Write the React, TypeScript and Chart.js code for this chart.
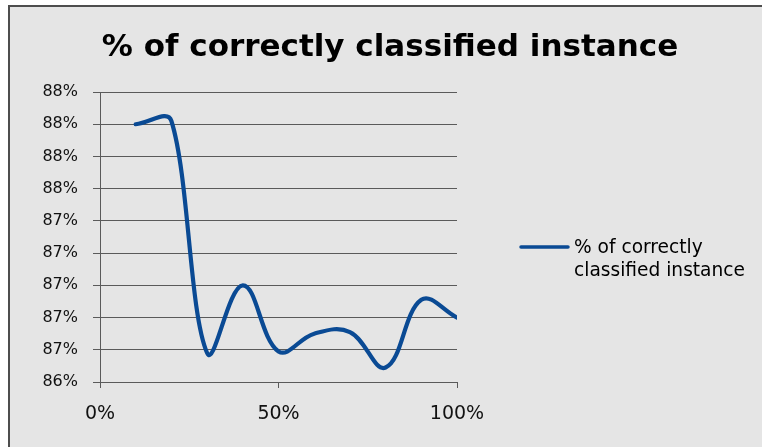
import { useEffect, useRef } from 'react';
import { Chart, registerables } from 'chart.js';

Chart.register(...registerables);

// Series: share of the training set (x) against classification accuracy (y)
const seriesName = '% of correctly classified instance';
const legendLines = ['% of correctly', 'classified instance'];
const trainShare = [10, 20, 30, 40, 50, 60, 70, 80, 90, 100];
const accuracy = [88.0, 88.02, 86.58, 87.0, 86.59, 86.7, 86.71, 86.49, 86.91, 86.8];

// Axis ranges
const yMin = 86.4;
const yMax = 88.2;
const yStep = 0.2;
const xMin = 0;
const xMax = 100;
const xStep = 50;

const LINE_COLOR = '#0a4a94';
const PANEL_BG = '#e5e5e5';
const FRAME_COLOR = '#4d4d4d';
const GRID_COLOR = '#5a5a5a';
const FONT = '"DejaVu Sans", sans-serif';
const TENSION = 0.4;

// Grey panel with a dark frame on the top and left edges
const framePlugin = {
  id: 'panelFrame',
  beforeDraw(chart: Chart) {
    const { ctx, width, height } = chart;
    ctx.save();
    ctx.fillStyle = '#ffffff';
    ctx.fillRect(0, 0, width, height);
    ctx.fillStyle = PANEL_BG;
    ctx.fillRect(8, 5, width - 8, height - 5);
    ctx.fillStyle = FRAME_COLOR;
    ctx.fillRect(8, 5, width - 8, 2);
    ctx.fillRect(8, 5, 2, height - 5);
    ctx.restore();
  },
};

// Same spline as Chart.js, but the bezier handles never reach further
// than half-way to the neighbouring point horizontally, so steep
// stretches stay a smooth S instead of bending back on themselves.
const smoothPlugin = {
  id: 'smoothHandles',
  beforeDatasetDraw(chart: Chart, args: any) {
    const meta = args.meta;
    const line = meta.dataset;
    if (!line) return;
    if (typeof line.updateControlPoints === 'function') {
      line.updateControlPoints(chart.chartArea, 'x');
    }
    const pts = meta.data as any[];
    const n = pts.length;
    for (let i = 0; i < n; i++) {
      const p = pts[i];
      const prev = pts[Math.max(i - 1, 0)];
      const next = pts[Math.min(i + 1, n - 1)];
      const d01 = Math.hypot(p.x - prev.x, p.y - prev.y);
      const d12 = Math.hypot(next.x - p.x, next.y - p.y);
      const sum = d01 + d12 || 1;
      let fa = (TENSION * d01) / sum;
      let fb = (TENSION * d12) / sum;
      const vx = next.x - prev.x;
      const vy = next.y - prev.y;
      const gapPrev = (p.x - prev.x) * 0.5;
      const gapNext = (next.x - p.x) * 0.5;
      if (vx > 0) {
        if (fa * vx > gapPrev) fa = gapPrev / vx;
        if (fb * vx > gapNext) fb = gapNext / vx;
      }
      p.cp1x = p.x - fa * vx;
      p.cp1y = p.y - fa * vy;
      p.cp2x = p.x + fb * vx;
      p.cp2y = p.y + fb * vy;
    }
    delete line._path;
  },
};

// Title and a two-line legend entry on the right
const captionPlugin = {
  id: 'captions',
  afterDraw(chart: Chart) {
    const { ctx } = chart;
    const ds = chart.data.datasets[0] as any;
    ctx.save();
    ctx.fillStyle = '#000000';
    ctx.font = `bold 31px ${FONT}`;
    ctx.textAlign = 'center';
    ctx.textBaseline = 'alphabetic';
    ctx.fillText(seriesName, 390, 56);

    ctx.strokeStyle = ds.borderColor;
    ctx.lineWidth = 3.5;
    ctx.lineCap = 'round';
    ctx.beginPath();
    ctx.moveTo(521, 247);
    ctx.lineTo(568, 247);
    ctx.stroke();

    ctx.font = `18.6px ${FONT}`;
    ctx.textAlign = 'left';
    ctx.fillText(legendLines[0], 574, 253);
    ctx.fillText(legendLines[1], 574, 276);
    ctx.restore();
  },
};

export default function App() {
  const canvasRef = useRef<HTMLCanvasElement | null>(null);

  useEffect(() => {
    const canvas = canvasRef.current;
    if (!canvas) return;
    const chart = new Chart(canvas, {
      type: 'line',
      data: {
        datasets: [
          {
            label: seriesName,
            data: trainShare.map((x, i) => ({ x, y: accuracy[i] })),
            borderColor: LINE_COLOR,
            backgroundColor: LINE_COLOR,
            borderWidth: 4.2,
            borderCapStyle: 'round',
            borderJoinStyle: 'round',
            pointRadius: 0,
            pointHoverRadius: 0,
            tension: TENSION,
            fill: false,
          },
        ],
      },
      options: {
        animation: false,
        responsive: false,
        events: [],
        layout: { padding: { left: 0, top: 92, right: 305, bottom: 0 } },
        plugins: {
          legend: { display: false },
          title: { display: false },
          tooltip: { enabled: false },
        },
        scales: {
          x: {
            type: 'linear',
            min: xMin,
            max: xMax,
            ticks: {
              stepSize: xStep,
              color: '#111111',
              font: { family: FONT, size: 19 },
              padding: 15,
              maxRotation: 0,
              callback: (v: any) => `${Math.round(Number(v))}%`,
            },
            grid: {
              drawOnChartArea: false,
              drawTicks: true,
              tickLength: 6,
              color: GRID_COLOR,
            },
            border: { display: true, color: GRID_COLOR, width: 1 },
            afterFit: (scale: any) => {
              scale.height = 65;
            },
          },
          y: {
            type: 'linear',
            min: yMin,
            max: yMax,
            ticks: {
              stepSize: yStep,
              color: '#111111',
              font: { family: FONT, size: 16 },
              padding: 15,
              callback: (v: any) => `${Math.round(Number(v))}%`,
            },
            grid: {
              drawTicks: true,
              tickLength: 7,
              color: GRID_COLOR,
            },
            border: { display: true, color: GRID_COLOR, width: 1 },
            afterFit: (scale: any) => {
              scale.width = 100;
            },
          },
        },
      },
      plugins: [framePlugin, smoothPlugin, captionPlugin],
    });
    return () => chart.destroy();
  }, []);

  return (
    <div style={{ position: 'absolute', left: 0, top: 0, width: 762, height: 447 }}>
      <canvas ref={canvasRef} width={762} height={447} />
    </div>
  );
}
